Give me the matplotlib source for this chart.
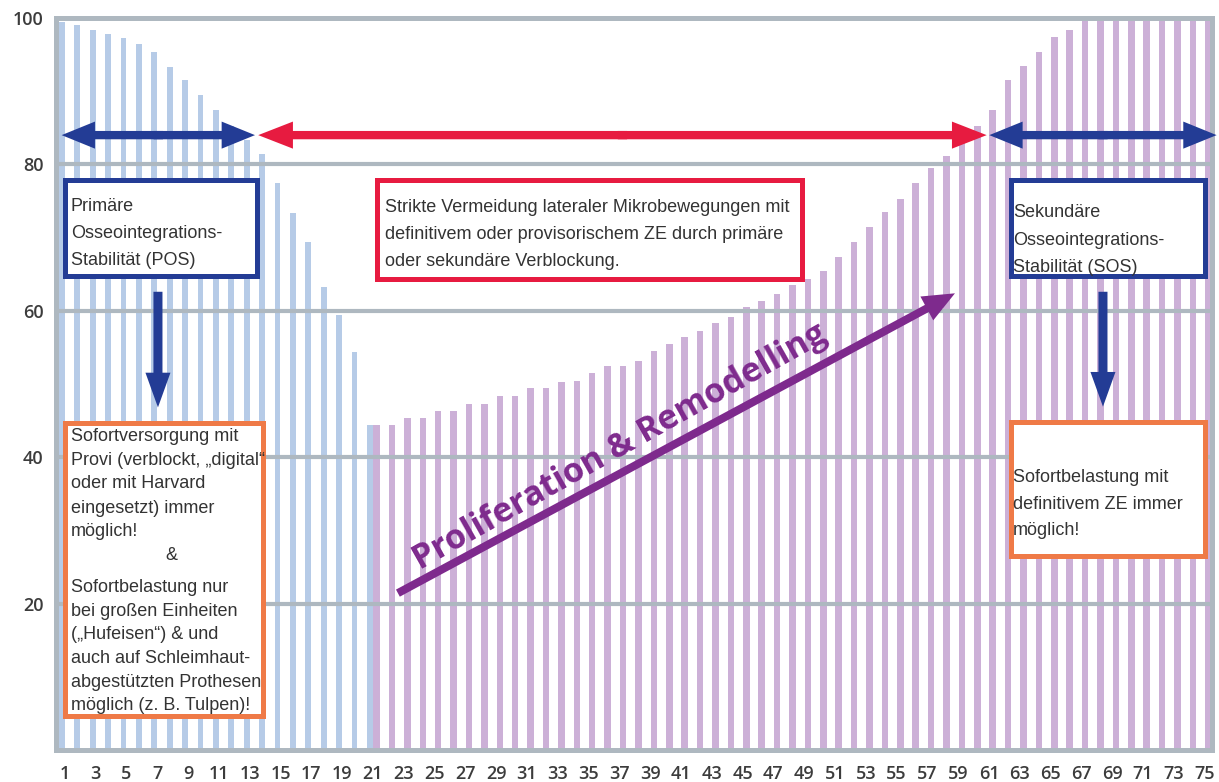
import numpy as np
import matplotlib
matplotlib.use("Agg")
import matplotlib.pyplot as plt
from matplotlib.patches import FancyArrowPatch, Rectangle

# ---------------- data ----------------
pos_days = list(range(1, 22))
pos_values = [99.5, 99.1, 98.4, 97.8, 97.3, 96.5, 95.3, 93.3, 91.5, 89.5, 87.4,
              85.3, 83.4, 81.4, 77.4, 73.3, 69.4, 63.3, 59.4, 54.4, 44.4]
sos_days = list(range(21, 76))
sos_values = [44.4, 44.4, 45.3, 45.3, 46.3, 46.3, 47.2, 47.2, 48.3, 48.3,
              49.5, 49.5, 50.3, 50.4, 51.5, 52.4, 52.4, 53.2, 54.5, 55.4,
              56.4, 57.3, 58.3, 59.2, 60.5, 61.4, 62.3, 63.5, 64.4, 65.5,
              67.4, 69.4, 71.4, 73.5, 75.3, 77.4, 79.5, 81.1, 83.3, 85.3,
              87.4, 91.5, 93.4, 95.3, 97.4, 98.4,
              100, 100, 100, 100, 100, 100, 100, 100, 100]
x_ticks = list(range(1, 76, 2))
y_ticks = [20, 40, 60, 80, 100]

pos_text = ["Primäre", "Osseointegrations-", "Stabilität (POS)"]
sos_text = ["Sekundäre", "Osseointegrations-", "Stabilität (SOS)"]
red_text = ["Strikte Vermeidung lateraler Mikrobewegungen mit",
            "definitivem oder provisorischem ZE durch primäre",
            "oder sekundäre Verblockung."]
left_orange_text = ["Sofortversorgung mit", "Provi (verblockt, \u201edigital\u201c",
                    "oder mit Harvard", "eingesetzt) immer", "möglich!", "&",
                    "Sofortbelastung nur", "bei großen Einheiten",
                    "(\u201eHufeisen\u201c) & und", "auch auf Schleimhaut-",
                    "abgestützten Prothesen", "möglich (z. B. Tulpen)!"]
right_orange_text = ["Sofortbelastung mit", "definitivem ZE immer", "möglich!"]
diag_label = "Proliferation & Remodelling"

# ---------------- style ----------------
BLUE_BAR = "#b6cbe7"
PURPLE_BAR = "#ccb0d7"
GRID = "#aeb8c0"
DARK_BLUE = "#233c95"
RED = "#e71b40"
ORANGE = "#ef7a47"
PURPLE = "#7e2a8d"
TXT = "#333333"
BOX_FONT = ["Liberation Sans", "DejaVu Sans"]

W, H = 1219, 782
fig = plt.figure(figsize=(W / 100, H / 100), dpi=100)
ax = fig.add_axes([56 / W, 1 - 750 / H, (1212 - 56) / W, (750 - 18) / H])

ax.bar(np.array(pos_days) - 0.2, pos_values, width=0.38, color=BLUE_BAR, zorder=2)
ax.bar(np.array(sos_days) + 0.24, sos_values, width=0.42, color=PURPLE_BAR, zorder=2)

ax.set_xlim(0.42, 75.48)
ax.set_ylim(0, 100)

for y in [20, 40, 60, 80]:
    ax.axhline(y, color=GRID, lw=3.0, zorder=2.6)
for s in ax.spines.values():
    s.set_color(GRID)
    s.set_linewidth(3.6)
    s.set_zorder(2.7)

ax.set_xticks(x_ticks)
ax.set_xticklabels([str(t) for t in x_ticks])
ax.set_yticks(y_ticks)
ax.set_yticklabels([str(t) for t in y_ticks])
ax.tick_params(length=0)
ax.tick_params(axis="x", pad=11)
ax.tick_params(axis="y", pad=9)
for lab in ax.get_xticklabels() + ax.get_yticklabels():
    lab.set_fontfamily(["Open Sans", "DejaVu Sans"])
    lab.set_fontweight("semibold")
    lab.set_fontsize(13)
    lab.set_color("#3c3c3c")


def box(x0, x1, y0, y1, color):
    ax.add_patch(Rectangle((x0, y0), x1 - x0, y1 - y0, facecolor="white",
                           edgecolor=color, lw=3.6, zorder=4, clip_on=False))


def text_lines(x, y, lines, offsets_px, centered=None):
    for i, (line, off) in enumerate(zip(lines, offsets_px)):
        xx, ha = (x, "left")
        if centered is not None and i in centered:
            xx, ha = centered[i], "center"
        ax.annotate(line, xy=(xx, y), xytext=(0, -off * 0.72),
                    textcoords="offset points", ha=ha, va="baseline",
                    fontsize=13, color=TXT, family=BOX_FONT, zorder=5,
                    annotation_clip=False)


def arrow(p0, p1, color, hl, hw, tw):
    ax.add_patch(FancyArrowPatch(
        p0, p1, arrowstyle=f"simple,head_length={hl},head_width={hw},tail_width={tw}",
        mutation_scale=1, color=color, lw=0, shrinkA=0, shrinkB=0,
        zorder=6, clip_on=False))


def double_arrow(x0, x1, y, color, hl, hw, tw):
    mid = (x0 + x1) / 2
    arrow((mid + 0.3, y), (x0, y), color, hl, hw, tw)
    arrow((mid - 0.3, y), (x1, y), color, hl, hw, tw)


# boxes
box(1.03, 13.5, 64.78, 77.88, DARK_BLUE)
box(21.26, 48.86, 64.3, 77.88, RED)
box(62.4, 75.0, 64.78, 77.88, DARK_BLUE)
box(1.03, 13.89, 4.71, 44.71, ORANGE)
box(62.4, 75.0, 26.55, 44.85, ORANGE)

text_lines(1.39, 73.6, pos_text, [0, 27, 54])
text_lines(21.78, 73.45, red_text, [0, 27, 54])
text_lines(62.56, 72.76, sos_text, [0, 27.5, 55])
text_lines(1.39, 42.18, left_orange_text,
           [0, 23.5, 47, 71.5, 95, 119, 150.5, 174.5, 198, 221.5, 245.5, 268.5],
           centered={5: 7.88})
text_lines(62.56, 36.59, right_orange_text, [0, 26.5, 53])

# horizontal arrows
ya = 84.0
double_arrow(0.786, 13.34, ya, DARK_BLUE, 24, 19.5, 6)
double_arrow(13.55, 60.85, ya, RED, 25, 19.5, 6)
double_arrow(61.02, 75.78, ya, DARK_BLUE, 24, 19.5, 6)

# vertical arrows
arrow((7.04, 62.6), (7.04, 46.8), DARK_BLUE, 25, 18, 6.5)
arrow((68.4, 62.6), (68.4, 46.9), DARK_BLUE, 25, 18, 6.5)

# diagonal arrow + label
arrow((22.62, 21.43), (58.79, 62.39), PURPLE, 23, 19.5, 5.8)
ax.text(37.04, 41.4, diag_label, rotation=29.4, rotation_mode="anchor",
        ha="center", va="center", fontsize=24.5, fontweight="bold",
        family=["Open Sans", "DejaVu Sans"], color=PURPLE, zorder=6)

fig.savefig("out.png", dpi=100)
